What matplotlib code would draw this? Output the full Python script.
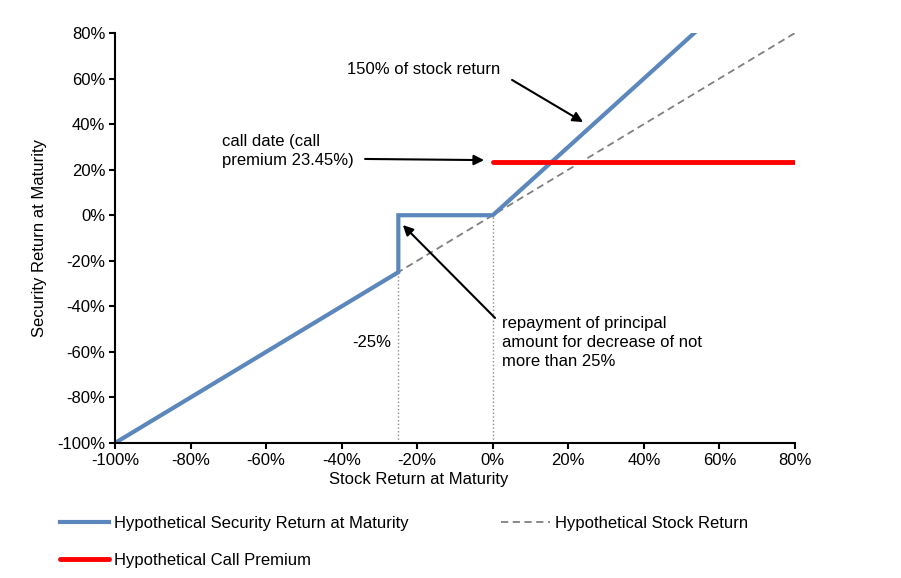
import matplotlib
matplotlib.use('Agg')
import matplotlib.pyplot as plt
from matplotlib.ticker import FuncFormatter

plt.rcParams['font.family'] = ['Liberation Sans', 'DejaVu Sans']
plt.rcParams['font.size'] = 12

# data (returns in %)
security_x = [-100, -25, -25, 0, 53.33]
security_y = [-100, -25, 0, 0, 80]
stock_x = [-100, 80]
stock_y = [-100, 80]
call_x = [0, 80]
call_y = [23.45, 23.45]
ticks = list(range(-100, 81, 20))

fig = plt.figure(figsize=(9.01, 5.78), dpi=100)
ax = fig.add_axes([115/901, 1-443/578, 680/901, 410/578])

ax.plot([-25, -25], [-100, -25], color='#8c8c8c', lw=1, ls=':')
ax.plot([0, 0], [-100, 0], color='#8c8c8c', lw=1, ls=':')
l_stock, = ax.plot(stock_x, stock_y, color='#808080', lw=1.3, ls=(0, (4, 2.5)),
                   label='Hypothetical Stock Return')
l_sec, = ax.plot(security_x, security_y, color='#5b87bd', lw=3,
                 label='Hypothetical Security Return at Maturity', solid_joinstyle='miter')
l_call, = ax.plot(call_x, call_y, color='#ff0000', lw=3.5, solid_capstyle='round',
                  label='Hypothetical Call Premium')

ax.set_xlim(-100, 80)
ax.set_ylim(-100, 80)
ax.set_xticks(ticks)
ax.set_yticks(ticks)
pct = FuncFormatter(lambda v, p: '%d%%' % v)
ax.xaxis.set_major_formatter(pct)
ax.yaxis.set_major_formatter(pct)
for s in ['top', 'right']:
    ax.spines[s].set_visible(False)
for s in ['left', 'bottom']:
    ax.spines[s].set_linewidth(1.5)
ax.tick_params(direction='out', length=4, width=1.5, labelsize=12, pad=3)
ax.set_xlabel('Stock Return at Maturity', fontsize=12, labelpad=3, x=0.446)
ax.set_ylabel('Security Return at Maturity', fontsize=12, labelpad=7)

arrow = dict(arrowstyle='-|>', color='black', lw=1.5, mutation_scale=15, shrinkA=0, shrinkB=0)
ax.annotate('', xy=(23.9, 40.9), xytext=(5.1, 59.4), arrowprops=arrow)
ax.annotate('', xy=(-2.3, 24.2), xytext=(-33.8, 24.7), arrowprops=arrow)
ax.annotate('', xy=(-23.8, -4.3), xytext=(0.6, -45.1), arrowprops=arrow)
ax.text(-38.6, 63.8, '150% of stock return', ha='left', va='center')
ax.text(-71.7, 28.2, 'call date (call\npremium 23.45%)', ha='left', va='center',
        linespacing=1.35)
ax.text(2.4, -55.8, 'repayment of principal\namount for decrease of not\nmore than 25%',
        ha='left', va='center', linespacing=1.35)
ax.text(-32, -56, '-25%', ha='center', va='center')

fig.legend([l_sec, l_call, l_stock],
           [l_sec.get_label(), l_call.get_label(), l_stock.get_label()],
           ncol=2, loc='upper left', bbox_to_anchor=(45/901, 1-501/578),
           frameon=False, fontsize=12, handlelength=2.95, handletextpad=0.3,
           columnspacing=5.55, labelspacing=1.3)

fig.savefig('out.png', dpi=100)
